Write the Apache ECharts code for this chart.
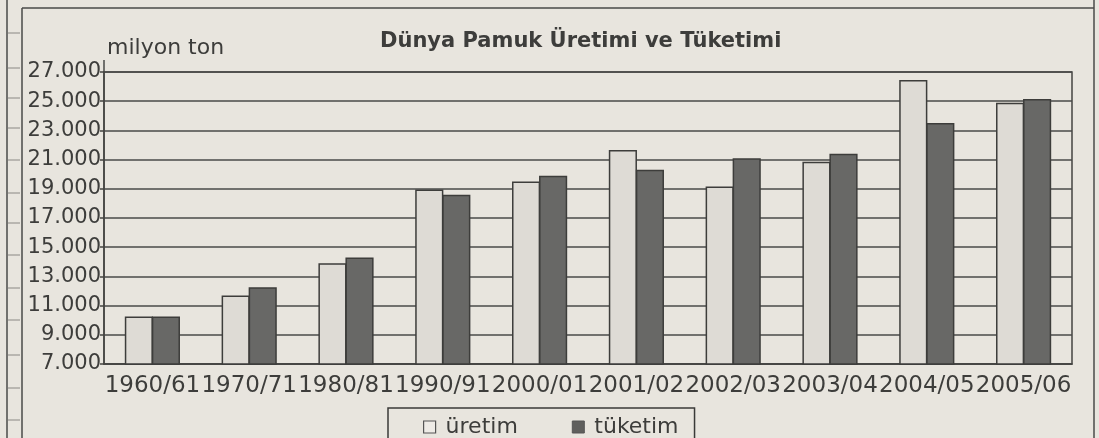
<!DOCTYPE html>
<html>
<head>
<meta charset="utf-8">
<script src="https://cdn.jsdelivr.net/npm/echarts@6/dist/echarts.min.js"></script>
<style>
html, body { margin: 0; padding: 0; background: #e8e5de; }
#main { width: 1099px; height: 438px; }
</style>
</head>
<body>
<div id="main"></div>
<script>
// veriler (bin ton)
var seasons = ['1960/61', '1970/71', '1980/81', '1990/91', '2000/01', '2001/02', '2002/03', '2003/04', '2004/05', '2005/06'];
var uretim = [10250, 11700, 13900, 18950, 19500, 21650, 19150, 20850, 26450, 24900];
var tuketim = [10250, 12250, 14300, 18600, 19900, 20300, 21100, 21400, 23500, 25150];
var yTicks = { min: 7000, max: 27000, step: 2000 };

var ink = '#3d3d3b';
var font = 'DejaVu Sans';

function dotted(v) {
	return String(v).replace(/\B(?=(\d{3})+(?!\d))/g, '.');
}

window.onload = function () {
	var myChart = echarts.init(document.getElementById('main'));

	// sayfa kenarindaki cerceve cizgileri
	var frame = [
		[22, 8, 1094, 8],
		[22, 8, 22, 438],
		[1094, 0, 1094, 438],
		[7, 0, 7, 438],
		[104, 60, 104, 72]
	];
	var leftTicks = [33, 68, 98, 128, 160, 193, 223, 255, 288, 320, 355, 388, 420];
	var graphics = frame.map(function (f) {
		return { type: 'line', shape: { x1: f[0], y1: f[1], x2: f[2], y2: f[3] }, style: { stroke: '#4a4a48', lineWidth: 1.5 } };
	});
	leftTicks.forEach(function (y) {
		graphics.push({ type: 'line', shape: { x1: 8, y1: y, x2: 20, y2: y }, style: { stroke: '#8a8884', lineWidth: 1 } });
	});

	var option = {
		backgroundColor: '#e8e5de',
		animation: false,
		title: [
			{
				text: 'Dünya Pamuk Üretimi ve Tüketimi',
				left: 380, top: 31, padding: 0,
				textStyle: { fontFamily: font, fontSize: 21, fontWeight: 'bold', color: ink }
			},
			{
				text: 'milyon ton',
				left: 107, top: 37, padding: 0,
				textStyle: { fontFamily: font, fontSize: 22, fontWeight: 'normal', color: ink }
			}
		],
		legend: {
			left: 388, top: 408,
			padding: [8, 16, 30, 35],
			itemGap: 54, itemWidth: 12, itemHeight: 12,
			borderColor: '#3a3a38', borderWidth: 1.5,
			textStyle: { fontFamily: font, fontSize: 22, color: ink, padding: [0, 0, 0, 5] },
			data: [
				{ name: 'üretim', icon: 'rect', itemStyle: { color: '#eeebe6', borderColor: '#555', borderWidth: 1.2 } },
				{ name: 'tüketim', icon: 'rect', itemStyle: { color: '#5f5f5d', borderColor: '#555', borderWidth: 1 } }
			]
		},
		grid: {
			left: 104, right: 27, top: 72, bottom: 74,
			show: true, borderColor: '#444442', borderWidth: 1.5, backgroundColor: 'transparent'
		},
		xAxis: {
			type: 'category',
			data: seasons,
			axisLine: { lineStyle: { color: '#444442', width: 1.5 } },
			axisTick: { length: 5, lineStyle: { color: '#444442', width: 1.5 } },
			axisLabel: { fontFamily: font, fontSize: 23, color: ink, margin: 11, interval: 0 }
		},
		yAxis: {
			type: 'value',
			min: yTicks.min, max: yTicks.max, interval: yTicks.step,
			axisLine: { show: true, lineStyle: { color: '#444442', width: 1.5 } },
			axisTick: { show: true, length: 4, lineStyle: { color: '#444442', width: 1.5 } },
			axisLabel: { fontFamily: font, fontSize: 21, color: ink, margin: 3, formatter: dotted },
			splitLine: { lineStyle: { color: '#4a4a48', width: 1.5 } }
		},
		series: [
			{
				name: 'üretim', type: 'bar', data: uretim,
				barGap: '-4%', barCategoryGap: '43%',
				itemStyle: { color: '#dedbd5', borderColor: '#3d3d3b', borderWidth: 1.5 }
			},
			{
				name: 'tüketim', type: 'bar', data: tuketim,
				itemStyle: { color: '#686866', borderColor: '#3d3d3b', borderWidth: 1.5 }
			}
		],
		graphic: graphics
	};

	myChart.setOption(option);
};
</script>
</body>
</html>
